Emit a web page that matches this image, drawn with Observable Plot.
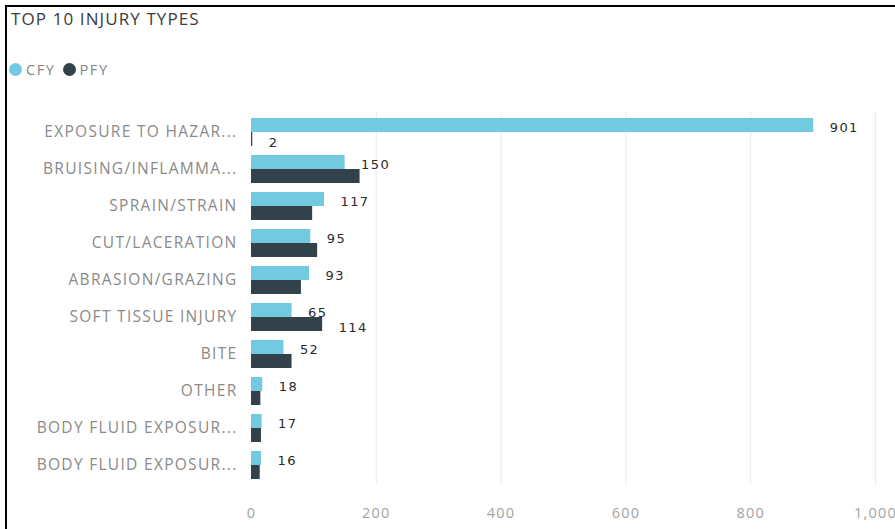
<!DOCTYPE html>
<html>
<head>
<meta charset="utf-8">
<script src="https://cdn.jsdelivr.net/npm/d3@7"></script>
<script src="https://cdn.jsdelivr.net/npm/@observablehq/plot@0.6"></script>
<style>
  html, body { margin: 0; padding: 0; background: #fff; }
  body { width: 895px; height: 529px; overflow: hidden; position: relative; font-family: "Open Sans", sans-serif; }
  #frame { position: absolute; left: 5px; top: 5px; width: 900px; height: 540px; border-left: 2px solid #000; border-top: 2px solid #000; }
  #header { position: absolute; left: 0; top: 0; width: 895px; height: 95px; }
  #title { position: absolute; left: 11px; top: 7px; font-size: 17px; color: #3c3c3c; white-space: nowrap; letter-spacing: 1.1px; }
  #legend { position: absolute; left: 9px; top: 60px; font-size: 14.5px; color: #858585; display: flex; align-items: center; white-space: nowrap; letter-spacing: 1.6px; }
  .item { display: flex; align-items: center; margin-right: 7px; }
  .dot { width: 13px; height: 13px; border-radius: 50%; margin-right: 4px; display: inline-block; }
  #chart { position: absolute; left: 0; top: 95px; }
  g[aria-label="text"] text { letter-spacing: 1.4px; }
  g[aria-label="y-axis tick label"] text { letter-spacing: 1.3px; }
  g[aria-label="x-axis tick label"] text { letter-spacing: 1.2px; }
</style>
</head>
<body>
<div id="frame"></div>
<div id="header">
  <div id="title"></div>
  <div id="legend"></div>
</div>
<div id="chart"></div>
<script>
const title = "TOP 10 INJURY TYPES";
const categories = [
  "EXPOSURE TO HAZAR...",
  "BRUISING/INFLAMMA...",
  "SPRAIN/STRAIN",
  "CUT/LACERATION",
  "ABRASION/GRAZING",
  "SOFT TISSUE INJURY",
  "BITE",
  "OTHER",
  "BODY FLUID EXPOSUR...",
  "BODY FLUID EXPOSUR..."
];
const series = ["CFY", "PFY"];
const cfy = [901, 150, 117, 95, 93, 65, 52, 18, 17, 16];
const pfy = [2, 174, 98, 106, 80, 114, 65, 15, 16, 14];
const colors = ["#72cae0", "#33424a"];
const xTicks = [0, 200, 400, 600, 800, 1000];
const gridTicks = [200, 400, 600, 800, 1000];
// data labels visible in the picture: every CFY value, and PFY only for these categories
const pfyLabelled = [0, 5];

document.getElementById("title").textContent = title;
const legend = document.getElementById("legend");
series.forEach((s, k) => {
  const item = document.createElement("span");
  item.className = "item";
  const dot = document.createElement("span");
  dot.className = "dot";
  dot.style.background = colors[k];
  item.appendChild(dot);
  item.appendChild(document.createTextNode(s));
  legend.appendChild(item);
});

const rows = categories.flatMap((c, i) => [
  {i, series: "CFY", value: cfy[i]},
  {i, series: "PFY", value: pfy[i]}
]);
const cfyRows = rows.filter(d => d.series === "CFY");
const pfyRows = rows.filter(d => d.series === "PFY");
const pfyLabelRows = pfyRows.filter(d => pfyLabelled.includes(d.i));

const half = 14;
const labelFont = "'DejaVu Sans', sans-serif";
const chart = Plot.plot({
  width: 895,
  height: 434,
  marginLeft: 251,
  marginRight: 20,
  marginTop: 17,
  marginBottom: 44,
  style: {fontFamily: "'Open Sans', sans-serif", background: "transparent"},
  x: {domain: [0, 1000]},
  y: {domain: d3.range(categories.length), paddingInner: 0.25, paddingOuter: 0.125},
  color: {domain: series, range: colors},
  marks: [
    Plot.ruleX(gridTicks, {stroke: "#ebebeb", strokeWidth: 1}),
    Plot.barX(cfyRows, {x: "value", y: "i", fill: "series", insetBottom: half}),
    Plot.barX(pfyRows, {x: "value", y: "i", fill: "series", insetTop: half}),
    Plot.text(cfyRows, {
      x: "value", y: "i", text: d => String(d.value), dx: 16, dy: -5,
      textAnchor: "start", fill: "#2a2a2a", fontSize: 13, fontFamily: labelFont
    }),
    Plot.text(pfyLabelRows, {
      x: "value", y: "i", text: d => String(d.value), dx: 16, dy: 10,
      textAnchor: "start", fill: "#2a2a2a", fontSize: 13, fontFamily: labelFont
    }),
    Plot.axisY({tickSize: 0, tickPadding: 14, tickFormat: i => categories[i], fill: "#8a8a8a", fontSize: 15.5, label: null}),
    Plot.axisX(xTicks, {tickSize: 0, tickPadding: 22, tickFormat: d3.format(","), fill: "#a3a3a3", fontSize: 14.5, label: null})
  ]
});
document.getElementById("chart").appendChild(chart);
</script>
</body>
</html>
